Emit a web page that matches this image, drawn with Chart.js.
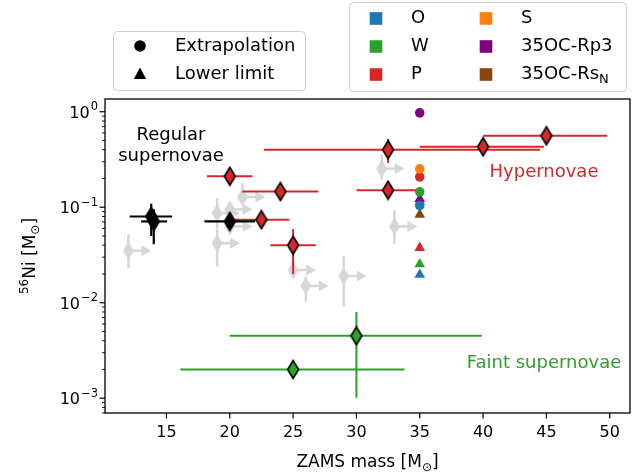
<!DOCTYPE html>
<html>
<head>
<meta charset="utf-8">
<script src="https://cdn.jsdelivr.net/npm/chart.js@4"></script>
<style>
  html, body { margin: 0; padding: 0; background: #fff; }
  canvas { display: block; }
</style>
</head>
<body>
<canvas id="c" width="640" height="475"></canvas>
<script>
// Axis ticks
const xTicks = [15, 20, 25, 30, 35, 40, 45, 50];
const yDecades = [0.001, 0.01, 0.1, 1];
const yTickExp = ['\u22123', '\u22122', '\u22121', '0'];

// Regular supernovae (black)
const regMass   = [13.8, 14.0, 20.0];
const regNi     = [0.080, 0.071, 0.071];
const regMassLo = [12.1, 13.0, 18.0];
const regMassHi = [15.45, 15.05, 22.0];
const regNiLo   = [0.050, 0.041, null];
const regNiHi   = [0.109, 0.095, null];

// Hypernovae (red)
const hypMass   = [20.0, 24.0, 22.5, 25.0, 32.5, 40.0, 45.0, 32.5];
const hypNi     = [0.211, 0.146, 0.074, 0.040, 0.40, 0.43, 0.56, 0.151];
const hypMassLo = [18.2, 21.0, 20.3, 23.2, 22.7, 35.0, 40.0, 30.0];
const hypMassHi = [21.8, 27.0, 24.7, 26.8, 44.5, 44.8, 49.8, 35.0];
const hypNiLo   = [null, null, null, 0.020, 0.29, null, null, null];
const hypNiHi   = [null, null, null, 0.059, 0.52, null, null, null];

// Faint supernovae (green)
const faintMass   = [30.0, 25.0];
const faintNi     = [0.0045, 0.0020];
const faintMassLo = [20.0, 16.1];
const faintMassHi = [39.9, 33.8];
const faintNiLo   = [0.00101, null];
const faintNiHi   = [0.0080, null];

// Lower limits on mass (grey, arrows to the right)
const limMass = [12.0, 19.0, 19.0, 20.0, 20.0, 21.0, 25.0, 26.0, 29.0, 32.0, 33.0];
const limNi   = [0.035, 0.087, 0.042, 0.095, 0.063, 0.128, 0.022, 0.015, 0.019, 0.254, 0.063];
const limNiLo = [0.023, 0.060, 0.024, null, null, 0.107, 0.018, 0.0103, 0.0092, 0.195, 0.041];
const limNiHi = [0.052, 0.125, 0.059, null, null, 0.180, 0.027, 0.0188, 0.0307, 0.356, 0.093];

// Explosion models at 35 Msun
const modelNames = ['O', 'W', 'P', 'S', '35OC-Rp3', '35OC-RsN'];
const modelMass  = 35;
const extrapNi   = [0.104, 0.145, 0.208, 0.252, 0.974, null];
const lowerNi    = [0.0197, 0.0253, 0.0376, 0.115, 0.122, 0.0838];

const modelColors = ['#1f77b4', '#2ca02c', '#d62728', '#ff7f0e', '#800080', '#8b4513'];
const RED = '#d62728', GREEN = '#2ca02c', GREY = '#d6d6d6';
const FONT = '"DejaVu Sans", sans-serif';

function thinDiamond(fill, edge) {
    const c = document.createElement('canvas');
    c.width = 14; c.height = 21;
    const g = c.getContext('2d');
    g.beginPath();
    g.moveTo(7, 1.5); g.lineTo(12.5, 10.5); g.lineTo(7, 19.5); g.lineTo(1.5, 10.5);
    g.closePath();
    g.fillStyle = fill; g.fill();
    if (edge) { g.strokeStyle = edge; g.lineWidth = 1.6; g.lineJoin = 'miter'; g.stroke(); }
    return c;
}

function pts(xs, ys) {
    return ys.map((v, i) => ({ x: Array.isArray(xs) ? xs[i] : xs, y: v })).filter(p => p.y != null);
}

// error bar specs keyed by dataset index
const errSpecs = {
    2: { mass: regMass, ni: regNi, lo: regMassLo, hi: regMassHi, nlo: regNiLo, nhi: regNiHi, color: '#000', width: 2.2 },
    3: { mass: hypMass, ni: hypNi, lo: hypMassLo, hi: hypMassHi, nlo: hypNiLo, nhi: hypNiHi, color: RED, width: 2 },
    4: { mass: faintMass, ni: faintNi, lo: faintMassLo, hi: faintMassHi, nlo: faintNiLo, nhi: faintNiHi, color: GREEN, width: 2 },
    5: { mass: limMass, ni: limNi, nlo: limNiLo, nhi: limNiHi, color: GREY, width: 2.5, arrow: true }
};

function line(ctx, x1, y1, x2, y2) {
    ctx.beginPath(); ctx.moveTo(x1, y1); ctx.lineTo(x2, y2); ctx.stroke();
}

function roundBox(ctx, x, y, w, h, r) {
    ctx.beginPath();
    ctx.moveTo(x + r, y);
    ctx.arcTo(x + w, y, x + w, y + h, r);
    ctx.arcTo(x + w, y + h, x, y + h, r);
    ctx.arcTo(x, y + h, x, y, r);
    ctx.arcTo(x, y, x + w, y, r);
    ctx.closePath();
    ctx.fillStyle = 'rgba(255,255,255,0.8)'; ctx.fill();
    ctx.strokeStyle = '#cccccc'; ctx.lineWidth = 1; ctx.stroke();
}

function tri(ctx, x, y, r, color) {
    ctx.beginPath();
    ctx.moveTo(x, y - r);
    ctx.lineTo(x + r * 0.95, y + r * 0.75);
    ctx.lineTo(x - r * 0.95, y + r * 0.75);
    ctx.closePath();
    ctx.fillStyle = color; ctx.fill();
}

// draw text pieces [text, size, dy] in sequence, centered on cx
function pieces(ctx, parts, cx, base, color) {
    let total = 0;
    parts.forEach(p => { ctx.font = p[1] + 'px ' + FONT; total += ctx.measureText(p[0]).width; });
    let x = cx - total / 2;
    ctx.fillStyle = color; ctx.textAlign = 'left'; ctx.textBaseline = 'alphabetic';
    parts.forEach(p => {
        ctx.font = p[1] + 'px ' + FONT;
        ctx.fillText(p[0], x, base + p[2]);
        x += ctx.measureText(p[0]).width;
    });
}

const sciPlugin = {
    id: 'sci',
    beforeDatasetDraw(chart, args) {
        const spec = errSpecs[args.index];
        if (!spec) return;
        const { ctx, chartArea: a, scales: { x, y } } = chart;
        ctx.save();
        ctx.beginPath(); ctx.rect(a.left, a.top, a.right - a.left, a.bottom - a.top); ctx.clip();
        ctx.strokeStyle = spec.color; ctx.lineWidth = spec.width; ctx.lineCap = 'butt';
        spec.ni.forEach((v, i) => {
            const px = x.getPixelForValue(spec.mass[i]);
            const py = y.getPixelForValue(v);
            if (spec.lo) line(ctx, x.getPixelForValue(spec.lo[i]), py, x.getPixelForValue(spec.hi[i]), py);
            if (spec.nlo[i] != null) line(ctx, px, y.getPixelForValue(spec.nlo[i]), px, y.getPixelForValue(spec.nhi[i]));
            if (spec.arrow) {
                ctx.strokeStyle = GREY; ctx.lineWidth = 2.5;
                line(ctx, px, py, px + 15, py);
                ctx.beginPath();
                ctx.moveTo(px + 13, py - 5.5); ctx.lineTo(px + 23, py); ctx.lineTo(px + 13, py + 5.5);
                ctx.closePath(); ctx.fillStyle = GREY; ctx.fill();
            }
        });
        ctx.restore();
    },
    afterDraw(chart) {
        const { ctx, chartArea: a, scales: { x, y } } = chart;
        ctx.save();
        // frame
        ctx.strokeStyle = '#000'; ctx.lineWidth = 1.3;
        ctx.strokeRect(a.left, a.top, a.right - a.left, a.bottom - a.top);
        // x ticks
        ctx.lineWidth = 1.2;
        xTicks.forEach(v => { const px = x.getPixelForValue(v); line(ctx, px, a.bottom, px, a.bottom + 5.5); });
        // y ticks, major and minor, with 10^n labels
        yDecades.forEach((d, i) => {
            const py = y.getPixelForValue(d);
            ctx.lineWidth = 1.2; line(ctx, a.left, py, a.left - 5.5, py);
            for (let k = 2; k <= 9; k++) {
                const v = d * k;
                if (v > y.max) continue;
                const q = y.getPixelForValue(v);
                ctx.lineWidth = 0.9; line(ctx, a.left, q, a.left - 3, q);
            }
            ctx.fillStyle = '#000'; ctx.textBaseline = 'alphabetic'; ctx.textAlign = 'right';
            ctx.font = '11.5px ' + FONT;
            const ew = ctx.measureText(yTickExp[i]).width;
            ctx.fillText(yTickExp[i], a.left - 7, py - 1.5);
            ctx.font = '16px ' + FONT;
            ctx.fillText('10', a.left - 8 - ew, py + 6);
        });
        for (let k = 7; k <= 9; k++) {
            const q = y.getPixelForValue(0.0001 * k);
            if (q <= a.bottom) { ctx.lineWidth = 0.9; line(ctx, a.left, q, a.left - 3, q); }
        }

        // axis titles
        pieces(ctx, [['ZAMS mass [M', 17, 0], ['\u2299', 12, 4], [']', 17, 0]], (a.left + a.right) / 2, 467, '#000');
        ctx.save();
        ctx.translate(35, (a.top + a.bottom) / 2);
        ctx.rotate(-Math.PI / 2);
        pieces(ctx, [['56', 12, -7], ['Ni [M', 17, 0], ['\u2299', 12, 4], [']', 17, 0]], 0, 0, '#000');
        ctx.restore();

        // region labels
        ctx.textAlign = 'center'; ctx.textBaseline = 'middle';
        ctx.font = '18px ' + FONT; ctx.fillStyle = '#000';
        ctx.fillText('Regular', 171, 135);
        ctx.fillText('supernovae', 171, 156);
        ctx.fillStyle = RED; ctx.fillText('Hypernovae', 544, 172);
        ctx.fillStyle = GREEN; ctx.fillText('Faint supernovae', 544, 363);

        // left legend: marker meaning
        roundBox(ctx, 113.5, 31.5, 192, 59, 4);
        ctx.fillStyle = '#000';
        ctx.beginPath(); ctx.arc(140, 46, 5.8, 0, Math.PI * 2); ctx.fill();
        tri(ctx, 140, 74, 6.5, '#000');
        ctx.textAlign = 'left'; ctx.font = '18px ' + FONT; ctx.fillStyle = '#000';
        ctx.fillText('Extrapolation', 175, 46);
        ctx.fillText('Lower limit', 175, 74);

        // right legend: models
        roundBox(ctx, 349.5, 2.5, 277, 89, 4);
        const rows = [18.5, 46.5, 74.5];
        modelNames.forEach((n, i) => {
            const col = i < 3 ? 0 : 1, row = i % 3;
            const sx = col ? 486 : 376, tx = col ? 521 : 411;
            ctx.fillStyle = modelColors[i];
            ctx.fillRect(sx - 6.3, rows[row] - 6.3, 12.6, 12.6);
            ctx.fillStyle = '#000'; ctx.font = '18px ' + FONT; ctx.textBaseline = 'middle'; ctx.textAlign = 'left';
            if (n === '35OC-RsN') {
                ctx.fillText('35OC-Rs', tx, rows[row]);
                const w = ctx.measureText('35OC-Rs').width;
                ctx.font = '13px ' + FONT;
                ctx.fillText('N', tx + w, rows[row] + 5);
            } else {
                ctx.fillText(n, tx, rows[row]);
            }
        });
        ctx.restore();
    }
};

const redD = thinDiamond(RED, '#000');
const greenD = thinDiamond(GREEN, '#000');
const blackD = thinDiamond('#000', '#000');
const greyD = thinDiamond(GREY, null);

new Chart(document.getElementById('c'), {
    type: 'scatter',
    data: {
        datasets: [
            { data: pts(modelMass, extrapNi), pointStyle: 'circle', pointRadius: 4.8, borderWidth: 0,
              backgroundColor: modelColors.filter((c, i) => extrapNi[i] != null), order: 0 },
            { data: pts(modelMass, lowerNi), pointStyle: 'triangle', pointRadius: 6.2, borderWidth: 0,
              backgroundColor: modelColors, order: 1 },
            { data: pts(regMass, regNi), pointStyle: blackD, order: 2 },
            { data: pts(hypMass, hypNi), pointStyle: redD, order: 3 },
            { data: pts(faintMass, faintNi), pointStyle: greenD, order: 4 },
            { data: pts(limMass, limNi), pointStyle: greyD, order: 5 }
        ]
    },
    options: {
        responsive: false,
        animation: false,
        devicePixelRatio: 1,
        layout: { padding: { top: 99, right: 10, left: 0, bottom: 0 } },
        plugins: { legend: { display: false }, tooltip: { enabled: false } },
        scales: {
            x: {
                type: 'linear', min: 10.15, max: 51.6,
                grid: { display: false }, border: { display: false },
                afterFit: s => { s.height = 62; },
                afterBuildTicks: s => { s.ticks = xTicks.map(v => ({ value: v })); },
                ticks: { font: { family: FONT, size: 16 }, color: '#000', padding: 2, autoSkip: false, maxRotation: 0 }
            },
            y: {
                type: 'logarithmic', min: 7.0e-4, max: 1.36,
                grid: { display: false }, border: { display: false },
                afterFit: s => { s.width = 105; },
                afterBuildTicks: s => { s.ticks = yDecades.map(v => ({ value: v })); },
                ticks: { display: false }
            }
        }
    },
    plugins: [sciPlugin]
});
</script>
</body>
</html>
